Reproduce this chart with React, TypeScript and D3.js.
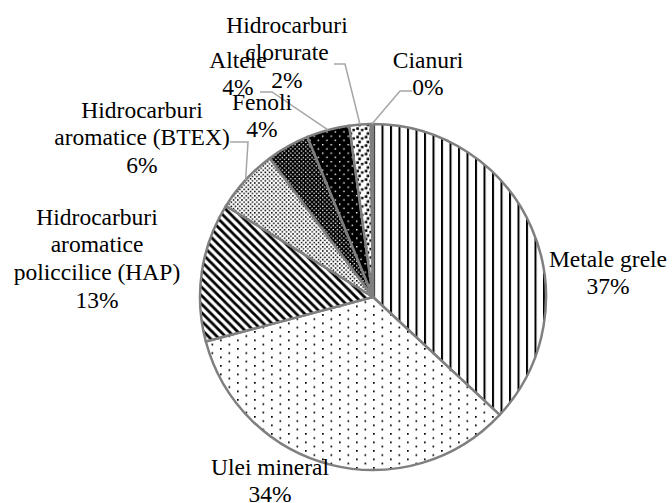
import React, { useEffect } from "react";
import * as d3 from "d3";

const categories = [
  "Metale grele",
  "Ulei mineral",
  "Hidrocarburi aromatice policcilice (HAP)",
  "Hidrocarburi aromatice (BTEX)",
  "Fenoli",
  "Altele",
  "Hidrocarburi clorurate",
  "Cianuri",
];
const values = [37, 34, 13, 6, 4, 4, 2, 0.2];
const labelLines = [
  ["Metale grele"],
  ["Ulei mineral"],
  ["Hidrocarburi", "aromatice", "policcilice (HAP)"],
  ["Hidrocarburi", "aromatice (BTEX)"],
  ["Fenoli"],
  ["Altele"],
  ["Hidrocarburi", "clorurate"],
  ["Cianuri"],
];
const patternIds = ["pVert", "pDots", "pDiag", "pCheckLight", "pCheckDark", "pBlackDots", "pConfetti", "pConfetti"];

const W = 672;
const H = 503;
const cx = 373;
const cy = 297;
const R = 173;
const FS = 23.5;
const LH = 27.6;

const labelAnchor: [number, number][] = [
  [235, -38],
  [-103, 170],
  [-276, -80],
  [-231, -187],
  [-111, -195],
  [-135, -237],
  [-86, -272],
  [55, -237],
];
const leaders: ([number, number, number, number] | null)[] = [
  null,
  null,
  null,
  [-143, -155, -125, -155],
  null,
  [-113, -205, -101, -205],
  [-39, -233, -28, -233],
  [39, -206, 27, -206],
];

export default function App() {
  useEffect(() => {
    document.body.style.margin = "0";
  }, []);
  const pie = d3.pie<number>().sort(null).value((d) => d).startAngle(0).endAngle(2 * Math.PI);
  const arcs = pie(values);
  const arcGen = d3.arc<d3.PieArcDatum<number>>().innerRadius(0).outerRadius(R);
  const total = d3.sum(values);

  return (
    <svg width={W} height={H} style={{ display: "block", background: "#fff" }}>
      <defs>
        <pattern id="pVert" width={8.5} height={8.5} patternUnits="userSpaceOnUse">
          <rect width={8.5} height={8.5} fill="#fff" />
          <rect x={0} y={0} width={2} height={8.5} fill="#000" />
        </pattern>
        <pattern id="pDots" width={17} height={8.5} patternUnits="userSpaceOnUse">
          <rect width={17} height={8.5} fill="#fff" />
          <rect x={0} y={0} width={1.7} height={1.7} fill="#000" />
          <rect x={8.5} y={4.25} width={1.7} height={1.7} fill="#000" />
        </pattern>
        <pattern id="pDiag" width={8.5} height={8.5} patternUnits="userSpaceOnUse">
          <rect width={8.5} height={8.5} fill="#fff" />
          <path d="M-1,-1 L9.5,9.5 M-3,5.5 L3,11.5 M5.5,-3 L11.5,3" stroke="#000" strokeWidth={2.8} />
        </pattern>
        <pattern id="pCheckLight" width={4.25} height={4.25} patternUnits="userSpaceOnUse">
          <rect width={4.25} height={4.25} fill="#fff" />
          <rect x={0} y={0} width={1.5} height={1.5} fill="#000" />
          <rect x={2.12} y={2.12} width={1.5} height={1.5} fill="#000" />
        </pattern>
        <pattern id="pCheckDark" width={4.25} height={4.25} patternUnits="userSpaceOnUse">
          <rect width={4.25} height={4.25} fill="#000" />
          <rect x={0} y={2.12} width={1.3} height={1.3} fill="#fff" />
          <rect x={2.12} y={0} width={1.3} height={1.3} fill="#fff" />
        </pattern>
        <pattern id="pBlackDots" width={8.5} height={8.5} patternUnits="userSpaceOnUse">
          <rect width={8.5} height={8.5} fill="#000" />
          <rect x={0} y={0} width={1.4} height={1.4} fill="#fff" />
          <rect x={4.25} y={4.25} width={1.4} height={1.4} fill="#fff" />
        </pattern>
        <pattern id="pConfetti" width={8.5} height={8.5} patternUnits="userSpaceOnUse">
          <rect width={8.5} height={8.5} fill="#fff" />
          <rect x={0.3} y={0.3} width={2.6} height={2.6} fill="#000" />
          <rect x={5} y={1.8} width={2.4} height={2.4} fill="#000" />
          <rect x={2.2} y={5.2} width={2.6} height={2.6} fill="#000" />
        </pattern>
      </defs>
      <g transform={`translate(${cx},${cy})`}>
        {arcs.map((a, i) => (
          <path key={i} d={arcGen(a) || ""} fill={`url(#${patternIds[i]})`} stroke="#7f7f7f" strokeWidth={2.5} strokeLinejoin="round" />
        ))}
        {arcs.map((a, i) => {
          const l = leaders[i];
          if (!l) return null;
          const mid = (a.startAngle + a.endAngle) / 2;
          const ex = R * Math.sin(mid);
          const ey = -R * Math.cos(mid);
          return (
            <polyline
              key={"l" + i}
              points={`${l[0]},${l[1]} ${l[2]},${l[3]} ${ex},${ey}`}
              fill="none"
              stroke="#a6a6a6"
              strokeWidth={1.5}
            />
          );
        })}
        {arcs.map((a, i) => {
          const lines = [...labelLines[i], `${Math.round((values[i] / total) * 100)}%`];
          const [lx, ly] = labelAnchor[i];
          return (
            <text
              key={"t" + i}
              textAnchor="middle"
              fontFamily="'Liberation Serif', 'Times New Roman', serif"
              fontSize={FS}
              fill="#000"
            >
              {lines.map((s, j) => (
                <tspan key={j} x={lx} y={ly + j * LH + FS * 0.33}>
                  {s}
                </tspan>
              ))}
            </text>
          );
        })}
      </g>
    </svg>
  );
}
